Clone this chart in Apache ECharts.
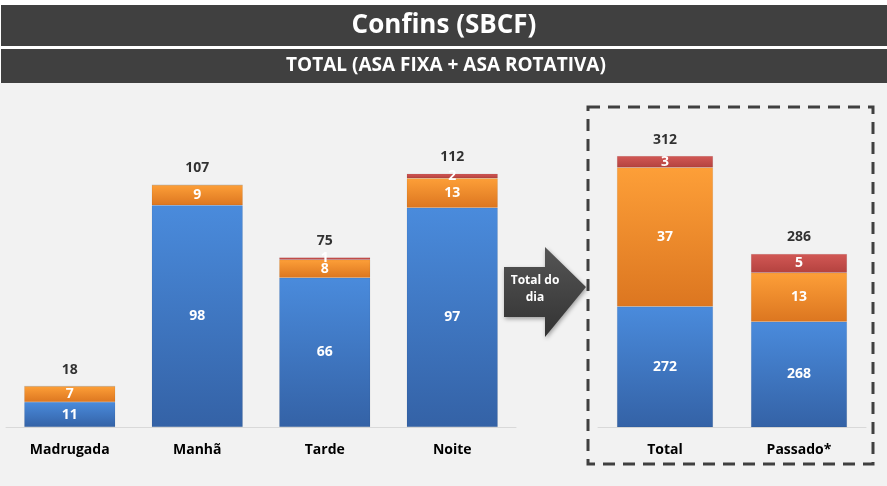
<!DOCTYPE html>
<html>
<head>
<meta charset="utf-8">
<script src="https://cdn.jsdelivr.net/npm/echarts@6/dist/echarts.min.js"></script>
<style>
  html, body { margin: 0; padding: 0; background: #fff; }
  #chart { width: 887px; height: 486px; }
</style>
</head>
<body>
<div id="chart"></div>
<script>
  // movimentos por periodo do dia
  const periodos = ['Madrugada', 'Manhã', 'Tarde', 'Noite'];
  const azulPeriodo = [11, 98, 66, 97];
  const laranjaPeriodo = [7, 9, 8, 13];
  const vermelhoPeriodo = [0, 0, 1, 2];
  const totalPeriodo = [18, 107, 75, 112];

  // total do dia x passado
  const comparativo = ['Total', 'Passado*'];
  const azulDia = [272, 268];
  const laranjaDia = [37, 13];
  const vermelhoDia = [3, 5];
  const totalDia = [312, 286];

  const FONT = '"Open Sans", Lato, sans-serif';

  const grad = (c1, c2) => new echarts.graphic.LinearGradient(0, 0, 0, 1, [
    {offset: 0, color: c1}, {offset: 1, color: c2}]);
  const cores = [
    grad('#4a8bdc', '#3462a6'),
    grad('#fd9f38', '#dc7620'),
    grad('#d25855', '#b4423f'),
  ];

  const segLabel = {
    show: true,
    color: '#fff',
    fontFamily: FONT,
    fontWeight: 'bold',
    fontSize: 14,
    formatter: p => (p.value ? p.value : ''),
  };

  function pilha(idx, nome, dados, cor, largura) {
    return {
      name: nome,
      type: 'bar',
      stack: 's' + idx,
      xAxisIndex: idx,
      yAxisIndex: idx,
      barWidth: largura,
      data: dados,
      itemStyle: {color: cor, borderColor: 'rgba(0,0,0,0.12)', borderWidth: 0.5},
      label: segLabel,
    };
  }

  function totais(idx, dados) {
    return {
      type: 'scatter',
      xAxisIndex: idx,
      yAxisIndex: idx,
      symbolSize: 1,
      itemStyle: {color: 'rgba(0,0,0,0)'},
      data: dados,
      label: {
        show: true,
        position: 'top',
        distance: 9,
        color: '#000',
        fontFamily: FONT,
        fontWeight: 'bold',
        fontSize: 14,
      },
    };
  }

  const catAxis = (idx, dados) => ({
    type: 'category',
    gridIndex: idx,
    data: dados,
    axisLine: {lineStyle: {color: '#d9d9d9', width: 1}},
    axisTick: {show: false},
    axisLabel: {
      margin: 16,
      color: '#000',
      fontFamily: FONT,
      fontWeight: 'bold',
      fontSize: 14,
    },
  });

  const chart = echarts.init(document.getElementById('chart'));
  chart.setOption({
    backgroundColor: '#f2f2f2',
    animation: false,
    grid: [
      {left: 6, width: 510, top: 133, bottom: 59},
      {left: 598, width: 268, top: 126, bottom: 59},
    ],
    xAxis: [catAxis(0, periodos), catAxis(1, comparativo)],
    yAxis: [
      {type: 'value', gridIndex: 0, min: 0, max: 130, show: false},
      {type: 'value', gridIndex: 1, min: 240, max: 320, show: false},
    ],
    series: [
      pilha(0, 'azul', azulPeriodo, cores[0], 91),
      pilha(0, 'laranja', laranjaPeriodo, cores[1], 91),
      pilha(0, 'vermelho', vermelhoPeriodo, cores[2], 91),
      totais(0, totalPeriodo),
      pilha(1, 'azul', azulDia, cores[0], 96),
      pilha(1, 'laranja', laranjaDia, cores[1], 96),
      pilha(1, 'vermelho', vermelhoDia, cores[2], 96),
      totais(1, totalDia),
    ],
    graphic: [
      {type: 'rect', shape: {x: 0, y: 0, width: 887, height: 83}, style: {fill: '#fff'}, silent: true},
      {type: 'rect', shape: {x: 1, y: 5, width: 886, height: 41}, style: {fill: '#404040'}},
      {type: 'rect', shape: {x: 1, y: 49, width: 886, height: 34}, style: {fill: '#404040'}},
      {
        type: 'text', x: 444, y: 26,
        style: {
          text: 'Confins (SBCF)', fill: '#fff', font: 'bold 26px ' + FONT,
          textAlign: 'center', textVerticalAlign: 'middle',
        },
      },
      {
        type: 'text', x: 446, y: 66,
        style: {
          text: 'TOTAL (ASA FIXA + ASA ROTATIVA)', fill: '#fff', font: 'bold 19px ' + FONT,
          textAlign: 'center', textVerticalAlign: 'middle',
        },
      },
      {
        type: 'rect',
        shape: {x: 588, y: 107, width: 285, height: 357},
        style: {fill: 'none', stroke: '#404040', lineWidth: 3, lineDash: [12, 8]},
      },
      {
        type: 'polygon',
        shape: {points: [[504, 267], [545, 267], [545, 247], [586, 287], [545, 337], [545, 317], [504, 317]]},
        style: {
          fill: grad('#555555', '#333333'),
          shadowBlur: 4, shadowColor: 'rgba(0,0,0,0.35)', shadowOffsetX: 1, shadowOffsetY: 2,
        },
      },
      {
        type: 'text', x: 535, y: 289,
        style: {
          text: 'Total do\ndia', fill: '#fff', font: 'bold 12px ' + FONT, lineHeight: 17,
          textAlign: 'center', textVerticalAlign: 'middle',
        },
      },
    ],
  });
</script>
</body>
</html>
